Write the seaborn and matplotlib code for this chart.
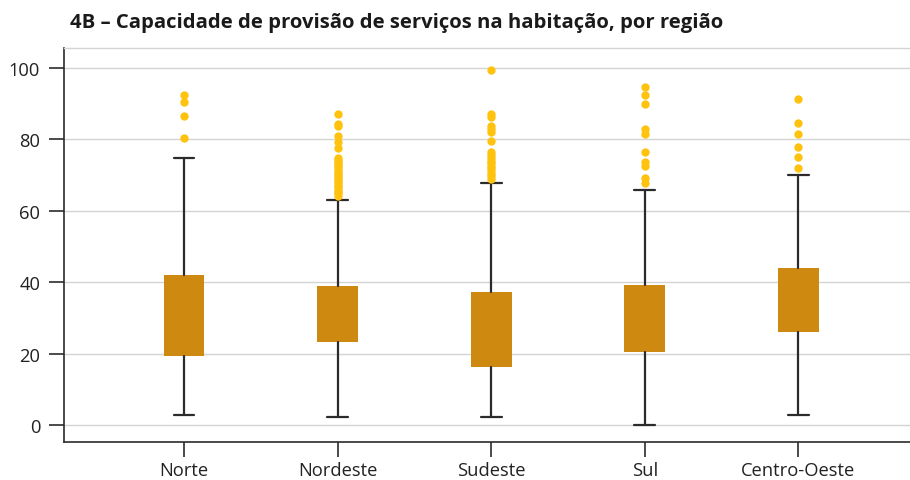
import numpy as np
import pandas as pd
import seaborn as sns
from matplotlib import pyplot as plt

sns.set_theme(style='white')
plt.rcParams['font.family'] = ['Open Sans', 'DejaVu Sans']

# Summary statistics
regions = ['Norte', 'Nordeste', 'Sudeste', 'Sul', 'Centro-Oeste']
q1 = [19.4, 23.3, 16.3, 20.5, 26.1]
q3 = [41.9, 38.9, 37.2, 39.1, 43.9]
whis_lo = [2.9, 2.3, 2.3, 0.1, 2.8]
whis_hi = [74.8, 62.9, 67.7, 65.9, 70.1]

# Outliers per region
out_norte = [80.3, 86.6, 90.5, 92.3]
out_nordeste = [64.2, 64.8, 65.3, 65.9, 66.5, 67.0, 67.6, 68.2, 68.8, 69.4,
                70.0, 70.6, 71.2, 71.8, 72.4, 73.0, 73.6, 74.2, 74.8,
                77.6, 79.2, 81.0, 83.6, 84.3, 86.9]
out_sudeste = [68.9, 69.6, 70.3, 71.0, 71.8, 72.5, 73.3, 74.0, 74.8, 75.5,
               76.3, 79.5, 82.0, 82.9, 83.8, 86.2, 86.9, 99.3]
out_sul = [67.6, 69.0, 72.6, 73.7, 76.5, 81.3, 82.8, 89.9, 92.4, 94.6]
out_co = [72.0, 75.0, 77.7, 81.3, 84.6, 91.3]

box_color = '#ce8a10'
dot_color = '#fec20f'
line_color = '#2b2b2b'

outliers = pd.DataFrame({
    'Região': np.repeat(regions, [len(out_norte), len(out_nordeste), len(out_sudeste),
                                  len(out_sul), len(out_co)]),
    'Valor': out_norte + out_nordeste + out_sudeste + out_sul + out_co,
})

fig = plt.figure(figsize=(9.1, 4.81), dpi=100)
ax = fig.add_axes([0.0698, 0.0784, 0.9302, 0.8198])

for y in range(0, 101, 20):
    ax.axhline(y, color='#d4d4d4', lw=1, zorder=0)

stats = [dict(med=q1[i], q1=q1[i], q3=q3[i], whislo=whis_lo[i], whishi=whis_hi[i], fliers=[])
         for i in range(len(regions))]
ax.bxp(stats, positions=range(len(regions)), widths=0.265, showfliers=False,
       patch_artist=True, manage_ticks=False,
       boxprops=dict(facecolor=box_color, edgecolor='none', linewidth=0),
       medianprops=dict(linewidth=0, color=box_color),
       whiskerprops=dict(color=line_color, linewidth=1.6),
       capprops=dict(color=line_color, linewidth=1.6),
       capwidths=0.135, zorder=3)

sns.stripplot(data=outliers, x='Região', y='Valor', order=regions, jitter=False,
              color=dot_color, size=6, linewidth=0, ax=ax, zorder=4)

ax.set_xlim(-0.785, 4.727)
ax.set_ylim(-4.8, 105.5)
ax.set_yticks(range(0, 101, 20))
ax.set_xticks(range(len(regions)))
ax.set_xticklabels(regions)
ax.set_xlabel('')
ax.set_ylabel('')

ax.spines['right'].set_visible(False)
ax.spines['top'].set_color('#d4d4d4')
ax.spines['top'].set_linewidth(1)
for side in ['left', 'bottom']:
    ax.spines[side].set_color(line_color)
    ax.spines[side].set_linewidth(1.2)

ax.tick_params(axis='both', which='major', direction='out', length=10.8, width=1.2,
               color=line_color, labelsize=13.2, labelcolor='#222222')
ax.tick_params(axis='y', pad=6)
ax.tick_params(axis='x', pad=3)
ax.tick_params(left=True, bottom=True)

fig.text(0.077, 0.953, '4B – Capacidade de provisão de serviços na habitação, por região',
         fontsize=14.6, fontweight='bold', color='#1a1a1a', va='center', ha='left')

fig.savefig('out.png', dpi=100)
